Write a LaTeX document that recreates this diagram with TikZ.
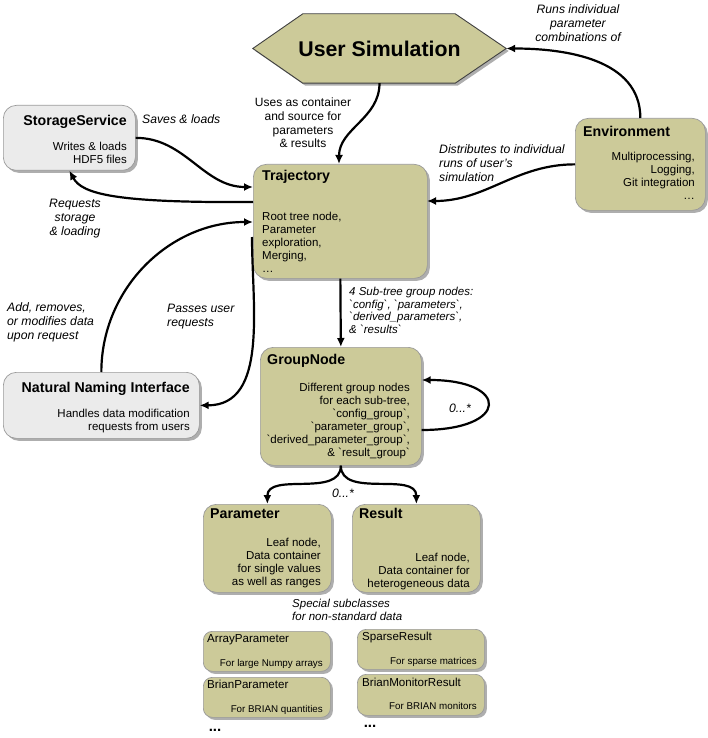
\documentclass[tikz,border=0pt]{standalone}
\usepackage{fontspec}
\setmainfont{Liberation Sans}[Ligatures=TeXOff]
\usetikzlibrary{arrows.meta,shadows,calc,backgrounds}
\definecolor{olivec}{HTML}{CCCA99}
\definecolor{greyc}{HTML}{EBEBEB}
\newcommand\myfs[2]{\fontsize{#1}{#2}\selectfont}
\begin{document}
\begin{tikzpicture}[x=1pt,y=-1pt,
  shad/.style={drop shadow={shadow xshift=2.5pt,shadow yshift=-2.5pt,fill=black!45,opacity=0.7}},
  box/.style={draw=black!40,line width=0.7pt,rounded corners=13pt,inner sep=0pt,anchor=north west,shad},
  obox/.style={box,fill=olivec},
  gbox/.style={box,fill=greyc},
  sbox/.style={box,fill=olivec,rounded corners=9pt},
  ttl/.style={font=\myfs{14.2}{17}\bfseries,inner sep=0pt},
  bdy/.style={font=\myfs{11.5}{13}\selectfont,inner sep=0pt},
  lab/.style={font=\myfs{12.2}{14}\itshape,inner sep=0pt},
  sttl/.style={font=\myfs{11.6}{14},inner sep=0pt},
  sbdy/.style={font=\myfs{9.8}{12},inner sep=0pt},
  conn/.style={line width=2.2pt,-{Latex[length=9pt,width=8pt]}},
]
\useasboundingbox (0,0) rectangle (708,738);

% ---------- User Simulation hexagon ----------
\node[minimum width=253pt,minimum height=69pt,inner sep=0pt,
      font=\myfs{21.3}{25}\bfseries] (sim) at (379.5,48.5) {User Simulation};
\begin{scope}[on background layer]
\draw[draw=black!75,line width=0.9pt,fill=olivec,shad]
  (sim.west) -- ($(sim.north west)+(50,0)$) -- ($(sim.north east)+(-51,0)$)
  -- (sim.east) -- ($(sim.south east)+(-51,0)$) -- ($(sim.south west)+(50,0)$) -- cycle;
\end{scope}

% ---------- boxes ----------
\node[gbox,minimum width=132pt,minimum height=65pt] (stor) at (3,105) {};
\node[obox,minimum width=174pt,minimum height=114pt] (traj) at (253,164) {};
\node[obox,minimum width=130pt,minimum height=92pt] (env) at (575,118) {};
\node[gbox,minimum width=196pt,minimum height=66pt] (nni) at (3,372) {};
\node[obox,minimum width=161pt,minimum height=118pt] (grp) at (260,347) {};
\node[obox,minimum width=128pt,minimum height=88pt] (par) at (203,504) {};
\node[obox,minimum width=128pt,minimum height=88pt] (res) at (352,504) {};
\node[sbox,minimum width=127pt,minimum height=40pt] (arr) at (203,631) {};
\node[sbox,minimum width=127pt,minimum height=40pt] (bpar) at (203,677) {};
\node[sbox,minimum width=127pt,minimum height=40pt] (spr) at (357,629) {};
\node[sbox,minimum width=127pt,minimum height=41pt] (bmr) at (357,674) {};

% ---------- box texts ----------
\node[ttl,anchor=base east] (storT) at (127,126) {StorageService};
\node[bdy,anchor=north east,align=right] (storB) at (127,141.5) {Writes \& loads\\HDF5 files};

\node[ttl,anchor=base west] (trajT) at (262,180) {Trajectory};
\node[bdy,anchor=north west,align=left] (trajB) at (262,211.5)
  {Root tree node,\\Parameter\\exploration,\\Merging,\\\dots};

\node[ttl,anchor=base west] (envT) at (583,137) {Environment};
\node[bdy,anchor=north east,align=right] (envB) at (695,151.5)
  {Multiprocessing,\\Logging,\\Git integration\\\dots};

\node[ttl,anchor=base east] (nniT) at (190,392) {Natural Naming Interface};
\node[bdy,anchor=north east,align=right] (nniB) at (190,408.5)
  {Handles data modification\\requests from users};

\node[ttl,anchor=base west] (grpT) at (267,364) {GroupNode};
\node[bdy,anchor=north east,align=right] (grpB) at (410,382.5)
  {Different group nodes\\for each sub-tree,\\`config\_group`,\\`parameter\_group`,\\`derived\_parameter\_group`,\\\& `result\_group`};

\node[ttl,anchor=base west] (parT) at (210,518) {Parameter};
\node[bdy,anchor=north east,align=right] (parB) at (321,537.5)
  {Leaf node,\\Data container\\for single values\\as well as ranges};

\node[ttl,anchor=base west] (resT) at (359,518) {Result};
\node[bdy,anchor=north east,align=right] (resB) at (470,552.5)
  {Leaf node,\\Data container for\\heterogeneous data};

\node[sttl,anchor=base west] (arrT) at (207,642) {ArrayParameter};
\node[sbdy,anchor=base east] (arrB) at (323,666) {For large Numpy arrays};
\node[sttl,anchor=base west] (bparT) at (207,688) {BrianParameter};
\node[sbdy,anchor=base east] (bparB) at (323,712) {For BRIAN quantities};
\node[sttl,anchor=base west] (sprT) at (362,640) {SparseResult};
\node[sbdy,anchor=base east] (sprB) at (477,664) {For sparse matrices};
\node[sttl,anchor=base west] (bmrT) at (362,686) {BrianMonitorResult};
\node[sbdy,anchor=base east] (bmrB) at (477,709) {For BRIAN monitors};

\node[font=\myfs{15}{18}\bfseries,inner sep=0pt] (dotsA) at (215,730) {...};
\node[font=\myfs{15}{18}\bfseries,inner sep=0pt] (dotsB) at (370,726) {...};

% ---------- labels ----------
\node[lab,anchor=north,align=center] (runsL) at (578,4.5)
  {Runs individual\\parameter\\combinations of};
\node[font=\myfs{12}{13.7},inner sep=0pt,anchor=north,align=center] (usesL) at (303,98)
  {Uses as container\\and source for\\parameters\\\& results};
\node[lab,anchor=west] (savesL) at (142,119) {Saves \& loads};
\node[lab,anchor=north,align=center] (reqL) at (75,199)
  {Requests\\storage\\\& loading};
\node[lab,anchor=north west,align=left] (distL) at (439,144.5)
  {Distributes to individual\\runs of user’s\\simulation};
\node[lab,anchor=north west,align=left] (addL) at (7,302)
  {Add, removes,\\or modifies data\\upon request};
\node[lab,anchor=north west,align=left] (passL) at (167,304)
  {Passes user\\requests};
\node[font=\myfs{11.5}{12.7}\itshape,inner sep=0pt,anchor=north west,align=left] (subL) at (349,287)
  {4 Sub-tree group nodes:\\`config`, `parameters`,\\`derived\_parameters`,\\\& `results`};
\node[lab] (loopL) at (460,408) {0...*};
\node[lab] (splitL) at (343,493) {0...*};
\node[font=\myfs{11.5}{12.5}\itshape,inner sep=0pt,anchor=north west,align=left] (specL) at (292,599)
  {Special subclasses\\for non-standard data};

% ---------- connectors ----------
\draw[conn] (sim.south) to[out=-90,in=90] ($(traj.north west)+(86,0)$);
\draw[conn] (env.north) to[out=90,in=0] (sim.east);
\draw[conn] (env.west) to[out=180,in=0] ($(traj.north west)+(174,37)$);
\draw[conn] (stor.east) to[out=0,in=180] ($(traj.north west)+(0,23)$);
\draw[conn] ($(traj.north west)+(0,38)$) .. controls (115,203) and (82,194) .. (stor.south);
\draw[conn] (nni.north) to[out=90,in=180] ($(traj.north west)+(0,58)$);
\draw[conn] ($(traj.north west)+(-1,73)$) to[out=-90,in=0] (nni.east);
\draw[conn] (traj.south) -- (grp.north);
\draw[conn] ($(grp.north east)+(0,83)$) .. controls (510,430) and (510,380) .. ($(grp.north east)+(0,33)$);
\draw[conn] (grp.south) to[out=-90,in=90] (par.north);
\draw[conn] (grp.south) to[out=-90,in=90] (res.north);
\end{tikzpicture}
\end{document}
